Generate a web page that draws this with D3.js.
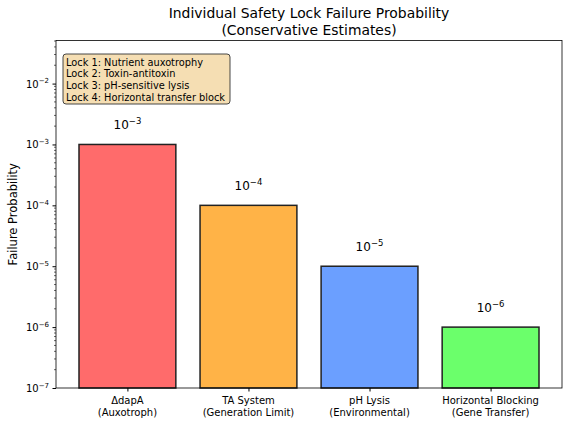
<!DOCTYPE html>
<html>
<head>
<meta charset="utf-8">
<script src="https://cdn.jsdelivr.net/npm/d3@7"></script>
<style>
  body { margin: 0; background: #fff; }
  text { font-family: "DejaVu Sans", sans-serif; fill: #000; }
</style>
</head>
<body>
<script>
// Data
let locks = ["\u0394dapA\n(Auxotroph)", "TA System\n(Generation Limit)", "pH Lysis\n(Environmental)", "Horizontal Blocking\n(Gene Transfer)"];
let probs = [1e-3, 1e-4, 1e-5, 1e-6];
let exps = [-3, -4, -5, -6];
let colors = ["#ff6b6b", "#ffb347", "#6b9fff", "#6bff6b"];
let yTicks = [1e-7, 1e-6, 1e-5, 1e-4, 1e-3, 1e-2];
let legendLines = ["Lock 1: Nutrient auxotrophy", "Lock 2: Toxin-antitoxin", "Lock 3: pH-sensitive lysis", "Lock 4: Horizontal transfer block"];

let width = 568, height = 424;
let margin = {top: 40.5, right: 6, bottom: 36, left: 56};

let svg = d3.select("body").append("svg")
  .attr("width", width)
  .attr("height", height);

// x: category index, matplotlib-like limits
let x = d3.scaleLinear()
  .domain([-0.59, 3.59])
  .range([margin.left, width - margin.right]);

let y = d3.scaleLog()
  .domain([1e-7, 5.1e-2])
  .range([height - margin.bottom, margin.top]);

let bw = 0.8;

// bars
svg.selectAll("rect.bar")
  .data(probs)
  .join("rect")
  .attr("class", "bar")
  .attr("x", (d, i) => x(i - bw / 2))
  .attr("width", x(bw) - x(0))
  .attr("y", d => y(d))
  .attr("height", d => y(1e-7) - y(d))
  .attr("fill", (d, i) => colors[i])
  .attr("stroke", "#222")
  .attr("stroke-width", 1.5);

// value labels
let vl = svg.selectAll("text.val")
  .data(probs)
  .join("text")
  .attr("class", "val")
  .attr("x", (d, i) => x(i))
  .attr("y", d => y(d * 2) + 3)
  .attr("text-anchor", "middle")
  .style("font-size", "12px");
vl.append("tspan").text("10");
vl.append("tspan")
  .attr("dy", -5)
  .style("font-size", "8.5px")
  .text((d, i) => "\u2212" + Math.abs(exps[i]));

// y axis
let yAxis = d3.axisLeft(y)
  .tickValues(yTicks)
  .tickFormat("")
  .tickSize(3.5);
let gy = svg.append("g")
  .attr("transform", `translate(${margin.left},0)`)
  .call(yAxis);
gy.select(".domain").remove();

// minor ticks
let minor = [];
for (let e = -7; e <= -2; e++) {
  for (let m = 2; m <= 9; m++) {
    let v = m * Math.pow(10, e);
    if (v < y.domain()[1]) minor.push(v);
  }
}
svg.append("g")
  .selectAll("line")
  .data(minor)
  .join("line")
  .attr("x1", margin.left - 2)
  .attr("x2", margin.left)
  .attr("y1", d => y(d))
  .attr("y2", d => y(d))
  .attr("stroke", "#000")
  .attr("stroke-width", 0.6);

// y tick labels
let yl = svg.append("g")
  .selectAll("text")
  .data(yTicks)
  .join("text")
  .attr("x", margin.left - 7)
  .attr("y", d => y(d) + 4)
  .attr("text-anchor", "end")
  .style("font-size", "10px");
yl.append("tspan").text("10");
yl.append("tspan")
  .attr("dy", -4.5)
  .style("font-size", "7px")
  .text(d => "\u2212" + Math.round(-Math.log10(d)));

// x axis
let xAxis = d3.axisBottom(x)
  .tickValues([0, 1, 2, 3])
  .tickFormat("")
  .tickSize(3.5);
let gx = svg.append("g")
  .attr("transform", `translate(0,${height - margin.bottom})`)
  .call(xAxis);
gx.select(".domain").remove();

svg.selectAll("text.xl")
  .data(locks)
  .join("text")
  .attr("class", "xl")
  .attr("text-anchor", "middle")
  .style("font-size", "10px")
  .each(function (d, i) {
    let parts = d.split("\n");
    d3.select(this).selectAll("tspan")
      .data(parts)
      .join("tspan")
      .attr("x", x(i))
      .attr("y", (p, j) => height - margin.bottom + 16 + j * 11.5)
      .text(p => p);
  });

// frame
svg.append("rect")
  .attr("x", margin.left)
  .attr("y", margin.top)
  .attr("width", width - margin.left - margin.right)
  .attr("height", height - margin.top - margin.bottom)
  .attr("fill", "none")
  .attr("stroke", "#000")
  .attr("stroke-width", 0.8);

// title
svg.append("text")
  .attr("x", (margin.left + width - margin.right) / 2)
  .attr("y", 18)
  .attr("text-anchor", "middle")
  .style("font-size", "13.9px")
  .text("Individual Safety Lock Failure Probability");
svg.append("text")
  .attr("x", (margin.left + width - margin.right) / 2)
  .attr("y", 35)
  .attr("text-anchor", "middle")
  .style("font-size", "13.9px")
  .text("(Conservative Estimates)");

// y label
svg.append("text")
  .attr("transform", `translate(17,${(margin.top + height - margin.bottom) / 2}) rotate(-90)`)
  .attr("text-anchor", "middle")
  .style("font-size", "11.5px")
  .text("Failure Probability");

// legend box
let lg = svg.append("g").attr("transform", "translate(63,54)");
lg.append("rect")
  .attr("width", 167)
  .attr("height", 50)
  .attr("rx", 3)
  .attr("fill", "#f5deb3")
  .attr("stroke", "#333")
  .attr("stroke-width", 0.9);
lg.selectAll("text")
  .data(legendLines)
  .join("text")
  .attr("x", 3)
  .attr("y", (d, i) => 11.5 + i * 11.8)
  .style("font-size", "9.8px")
  .text(d => d);
</script>
</body>
</html>
